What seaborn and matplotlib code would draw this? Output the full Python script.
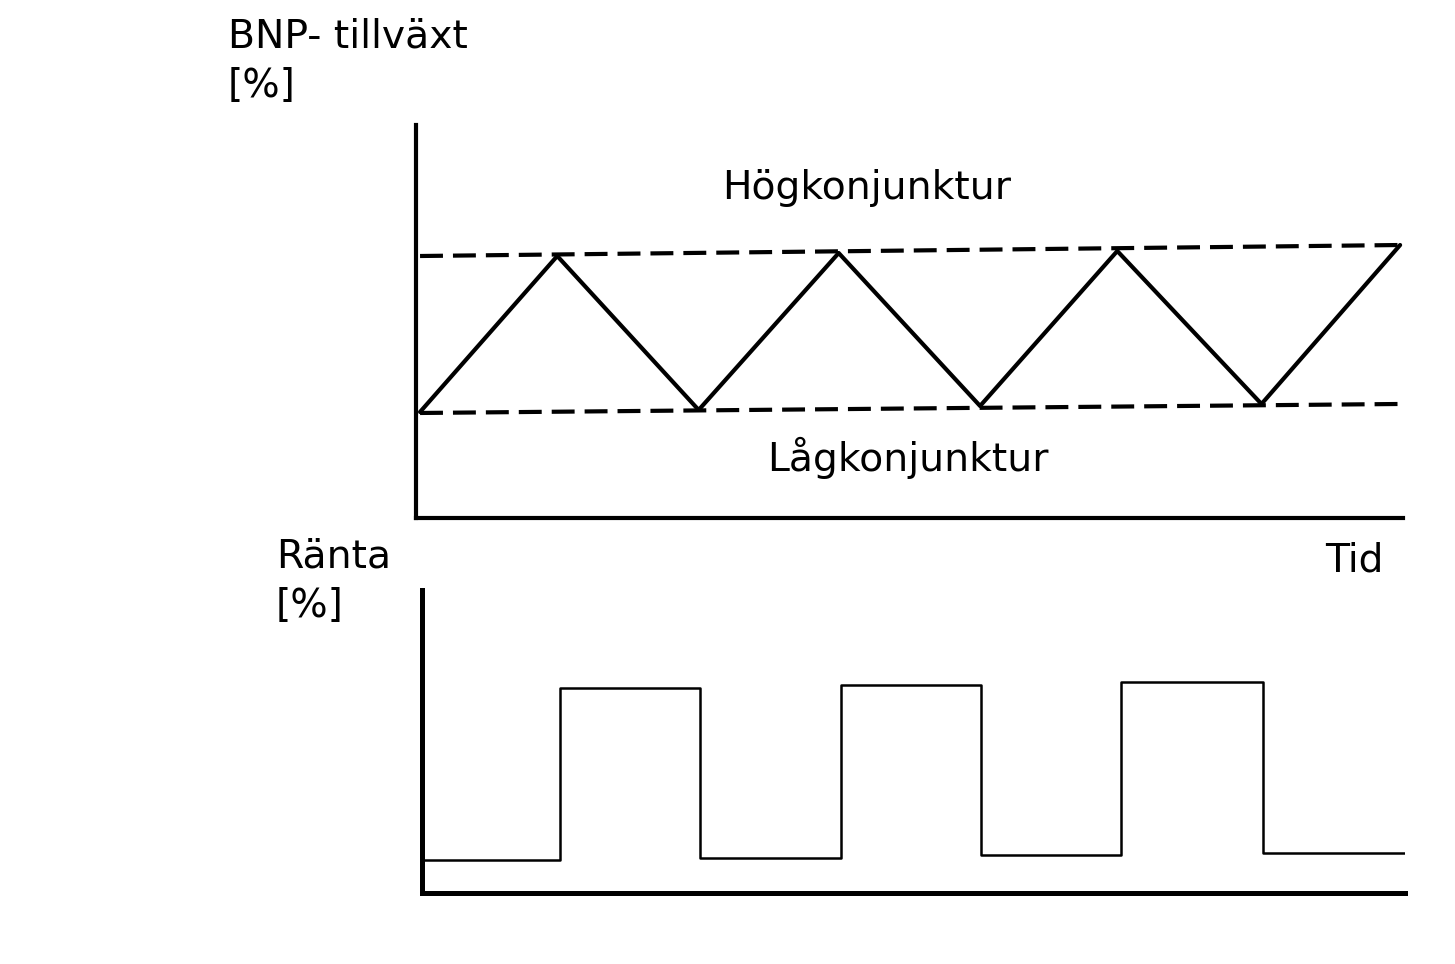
import seaborn as sns
import matplotlib.pyplot as plt
import pandas as pd

# BNP-tillväxt: sicksack mellan hög- och lågkonjunktur
bnp_tid = [0, 0.98, 1.99, 2.99, 4.0, 4.98, 6.01, 7.0]
bnp_varde = [1.06, 2.62, 1.08, 2.65, 1.12, 2.67, 1.14, 2.73]

# gränslinjer (streckade)
grans_tid = [0, 7.0]
hog_grans = [2.62, 2.73]
lag_grans = [1.05, 1.14]

# Ränta: trappsteg
ranta_tid = [0.01, 1.0, 2.0, 3.01, 4.01, 5.01, 6.02, 7.04]
ranta_varde = [0.33, 2.05, 0.35, 2.08, 0.38, 2.11, 0.40, 0.40]

sns.set_style("white")
plt.rcParams['font.family'] = ['DejaVu Sans']

fig = plt.figure(figsize=(14.55, 9.64), dpi=100)
ax1 = fig.add_axes([0.2859, 0.4627, 0.6784, 0.4076])
ax2 = fig.add_axes([0.2900, 0.0737, 0.6756, 0.3143])

bnp = pd.DataFrame({'tid': bnp_tid, 'bnp': bnp_varde})
sns.lineplot(data=bnp, x='tid', y='bnp', ax=ax1, color='black', lw=3.0, sort=False)
for g in (hog_grans, lag_grans):
    ax1.plot(grans_tid, g, color='black', lw=3.0, dashes=(5.5, 2.4))
ax1.set_xlim(-0.029, 7.021)
ax1.set_ylim(0, 3.93)

ranta = pd.DataFrame({'tid': ranta_tid, 'ranta': ranta_varde})
sns.lineplot(data=ranta, x='tid', y='ranta', ax=ax2, color='black', lw=1.8,
             drawstyle='steps-post')
ax2.set_xlim(0.014, 7.036)
ax2.set_ylim(0, 3.03)

for ax, w in ((ax1, 3.0), (ax2, 3.6)):
    for s in ('top', 'right'):
        ax.spines[s].set_visible(False)
    for s in ('left', 'bottom'):
        ax.spines[s].set_linewidth(w)
        ax.spines[s].set_color('black')
    ax.set_xticks([])
    ax.set_yticks([])
    ax.set_xlabel('')
    ax.set_ylabel('')

fs = 28.3
kw = dict(fontsize=fs, color='black')
fig.text(228 / 1455, 1 - 18 / 964, 'BNP- tillväxt\n[%]', va='top', ha='left', linespacing=1.35, **kw)
fig.text(867 / 1455, 1 - 188 / 964, 'Högkonjunktur', va='center', ha='center', **kw)
fig.text(908 / 1455, 1 - 458 / 964, 'Lågkonjunktur', va='center', ha='center', **kw)
fig.text(276 / 1455, 1 - 538 / 964, 'Ränta\n[%]', va='top', ha='left', linespacing=1.35, **kw)
fig.text(1325 / 1455, 1 - 560 / 964, 'Tid', va='center', ha='left', **kw)

fig.savefig('out.png', dpi=100, facecolor='white')
